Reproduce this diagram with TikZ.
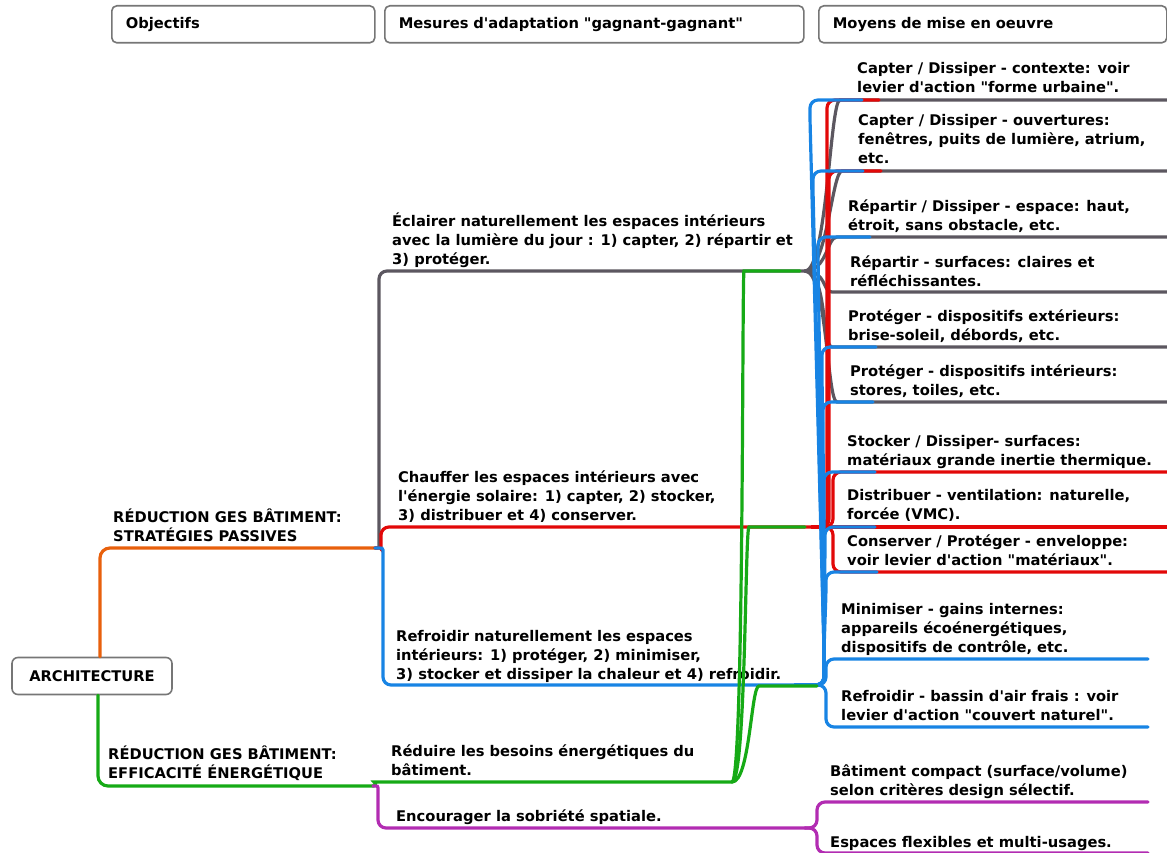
\documentclass[tikz,border=0pt]{standalone}
\usepackage{fontspec}
\setmainfont{DejaVu Sans}
\newfontfamily\mmfont{DejaVu Sans}
\usetikzlibrary{positioning}
\definecolor{mmgray}{RGB}{92,87,96}
\definecolor{mmorange}{RGB}{232,96,12}
\definecolor{mmgreen}{RGB}{22,170,22}
\definecolor{mmred}{RGB}{226,8,8}
\definecolor{mmblue}{RGB}{24,132,228}
\definecolor{mmpurple}{RGB}{178,44,178}
\definecolor{boxline}{RGB}{118,118,118}
\tikzset{
  br/.style={line width=3.2pt, line cap=round, rounded corners=8pt},
  txt/.style={anchor=base west, align=left, inner sep=0pt,
    font=\mmfont\bfseries\fontsize{14.7}{19}\selectfont},
  head/.style={draw=boxline, line width=1.6pt, fill=white, rounded corners=5pt,
    anchor=north west, minimum height=37pt, inner xsep=14pt, align=left,
    font=\mmfont\bfseries\fontsize{14.7}{17}\selectfont}
}
\newcommand\graylink[2]{
  \draw[br,mmgray] (eclE) .. controls +(22,0) and +(-18,0) .. (#2,#1) -- (1167,#1);
}
\newcommand\redlink[3]{
  \draw[br,mmred] (chaE) -| (#2,#1) -- (#3,#1);
}
\newcommand\bluelink[3]{
  \draw[br,mmblue] (refE) -| (824,650) -- (#2,#1+20) |- (#3,#1);
}
\begin{document}
\begin{tikzpicture}[x=1pt, y=-1pt]
\useasboundingbox (0,0) rectangle (1167,853);

\node[head, text width=235pt] (hobj) at (111,5) {Objectifs};
\node[head, text width=391pt] (hmes) at (384,5) {Mesures d'adaptation "gagnant-gagnant"};
\node[head, text width=320pt] (hmoy) at (818,5) {Moyens de mise en oeuvre};

\node[draw=boxline, line width=1.6pt, rounded corners=6pt, minimum width=160pt,
  minimum height=37pt, font=\mmfont\bfseries\fontsize{14.7}{17}\selectfont]
  (arch) at (92,676) {ARCHITECTURE};

\coordinate (pas) at (375,548);
\coordinate (eff) at (373,786);
\coordinate (eclE) at (805,271);
\coordinate (chaE) at (812,527);
\coordinate (refE) at (795,685);
\coordinate (redE) at (732,782);
\coordinate (encE) at (805,828);

% objectifs
\draw[br,mmorange,rounded corners=10pt] ([xshift=8pt]arch.north) |- (pas);
\draw[br,mmgreen,rounded corners=10pt] ([xshift=6pt]arch.south) |- (eff);
\node[txt] (passif) at (113,541) {RÉDUCTION GES BÂTIMENT:\\STRATÉGIES PASSIVES};
\node[txt] (efficace) at (108,778) {RÉDUCTION GES BÂTIMENT:\\EFFICACITÉ ÉNERGÉTIQUE};

% mesures
\draw[br,mmgray] (pas) .. controls (379,548) .. (379,538) |- (eclE);
\draw[br,mmred] (pas) .. controls (381,548) .. (381,541) |- (chaE);
\draw[br,mmblue] (pas) .. controls (383,548) .. (383,558) |- (refE);
\draw[br,mmgreen] (eff) .. controls (378,786) and (374,782) .. (382,782) -- (redE);
\draw[br,mmpurple] (eff) .. controls (378,786) .. (378,796) |- (encE);

\node[txt] (eclairer) at (392,264) {Éclairer naturellement les espaces intérieurs\\avec la lumière du jour : 1) capter, 2) répartir et\\3) protéger.};
\node[txt] (chauffer) at (398,520) {Chauffer les espaces intérieurs avec\\l'énergie solaire: 1) capter, 2) stocker,\\3) distribuer et 4) conserver.};
\node[txt] (refroidir) at (396,679) {Refroidir naturellement les espaces\\intérieurs: 1) protéger, 2) minimiser,\\3) stocker et dissiper la chaleur et 4) refroidir.};
\node[txt] (reduire) at (391,775) {Réduire les besoins énergétiques du\\bâtiment.};
\node[txt] (encourager) at (396,821) {Encourager la sobriété spatiale.};

% moyens
\graylink{100}{848}
\graylink{171}{850}
\graylink{237}{845}
\graylink{292}{840}
\graylink{347}{840}
\graylink{402}{845}

\redlink{100}{827}{879}
\redlink{171}{829}{881}
\redlink{472}{833}{1167}
\draw[br,mmred] (chaE) -- (1167,527);
\redlink{572}{833}{1167}

\bluelink{100}{810}{862}
\bluelink{171}{813}{863}
\bluelink{237}{818}{870}
\bluelink{347}{822}{876}
\bluelink{402}{823}{873}
\bluelink{472}{824}{875}
\bluelink{527}{825}{875}
\bluelink{572}{826}{877}
\draw[br,mmblue] (refE) -| (826,659) -- (1148,659);
\draw[br,mmblue] (refE) -| (826,727) -- (1148,727);

\draw[br,mmgreen] (redE) .. controls +(12,0) and +(-10,0) .. (752,271) -- (800,271);
\draw[br,mmgreen] (redE) .. controls +(14,0) and +(-12,0) .. (757,527) -- (805,527);
\draw[br,mmgreen] (redE) .. controls +(18,0) and +(-16,0) .. (767,686) -- (817,686);

\draw[br,mmpurple] (encE) -| (817,802) -- (1148,802);
\draw[br,mmpurple] (encE) -| (817,853) -- (1148,853);

\node[txt] (capctx) at (857,93) {Capter / Dissiper - contexte: voir\\levier d'action "forme urbaine".};
\node[txt] (capouv) at (858,164) {Capter / Dissiper - ouvertures:\\fenêtres, puits de lumière, atrium,\\etc.};
\node[txt] (repesp) at (848,230) {Répartir / Dissiper - espace: haut,\\étroit, sans obstacle, etc.};
\node[txt] (repsurf) at (850,286) {Répartir - surfaces: claires et\\réfléchissantes.};
\node[txt] (proext) at (848,340) {Protéger - dispositifs extérieurs:\\brise-soleil, débords, etc.};
\node[txt] (proint) at (850,395) {Protéger - dispositifs intérieurs:\\stores, toiles, etc.};
\node[txt] (stocker) at (847,465) {Stocker / Dissiper- surfaces:\\matériaux grande inertie thermique.};
\node[txt] (distrib) at (847,519) {Distribuer - ventilation: naturelle,\\forcée (VMC).};
\node[txt] (conserv) at (847,565) {Conserver / Protéger - enveloppe:\\voir levier d'action "matériaux".};
\node[txt] (minim) at (841,652) {Minimiser - gains internes:\\appareils écoénergétiques,\\dispositifs de contrôle, etc.};
\node[txt] (bassin) at (841,720) {Refroidir - bassin d'air frais : voir\\levier d'action "couvert naturel".};
\node[txt] (compact) at (830,795) {Bâtiment compact (surface/volume)\\selon critères design sélectif.};
\node[txt] (flex) at (830,847) {Espaces flexibles et multi-usages.};
\end{tikzpicture}
\end{document}
